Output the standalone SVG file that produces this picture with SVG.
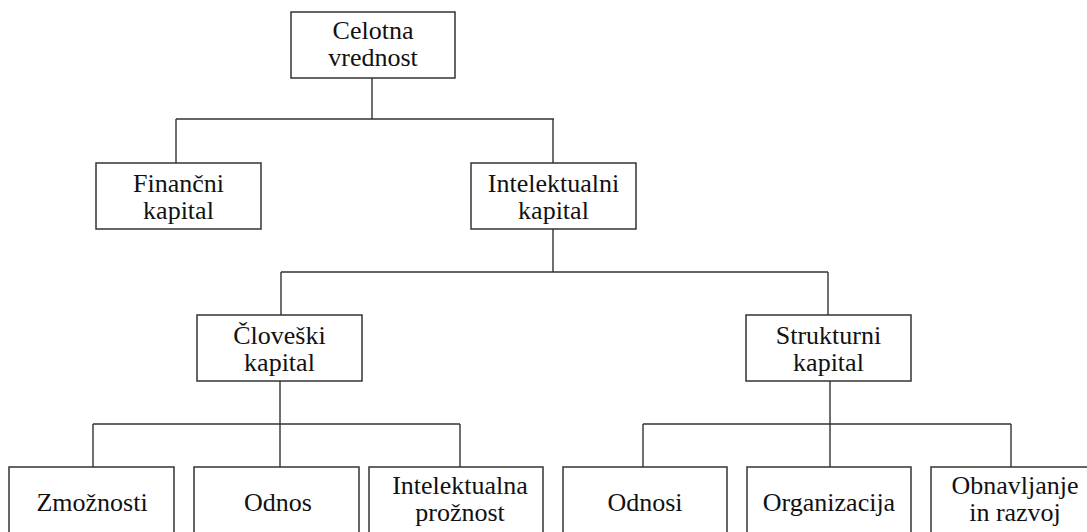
<svg xmlns="http://www.w3.org/2000/svg" width="1087" height="532" viewBox="0 0 1087 532">
<style>
.box{fill:#fff;stroke:#333;stroke-width:1.5}
.ln{fill:none;stroke:#333;stroke-width:1.4}
.t{font-family:'Liberation Serif','Times New Roman',serif;font-size:26px;fill:#111;text-anchor:middle}
</style>
<rect width="1087" height="532" fill="#fff"/>
<g id="connectors">
<path class="ln" d="M372,78V119M176,119H554M176,119V163M553,119V163"/>
<path class="ln" d="M553,229V272M281,272H828M281,272V315M828,272V315"/>
<path class="ln" d="M280,381V424M93,424H460M93,424V467M280,424V467M460,424V467"/>
<path class="ln" d="M830,381V424M643,424H1011M643,424V467M830,424V467M1011,424V467"/>
</g>
<g id="n-celotna"><rect class="box" x="291" y="12" width="164" height="66"/><text class="t" x="373" y="39">Celotna</text><text class="t" x="373" y="66">vrednost</text></g>
<g id="n-financni"><rect class="box" x="96" y="163" width="165" height="66"/><text class="t" x="178.5" y="192">Finančni</text><text class="t" x="178.5" y="219">kapital</text></g>
<g id="n-intelektualni"><rect class="box" x="471" y="163" width="165" height="66"/><text class="t" x="553.5" y="192">Intelektualni</text><text class="t" x="553.5" y="219">kapital</text></g>
<g id="n-cloveski"><rect class="box" x="197" y="315" width="165" height="66"/><text class="t" x="279.5" y="344">Človeški</text><text class="t" x="279.5" y="371">kapital</text></g>
<g id="n-strukturni"><rect class="box" x="746" y="315" width="165" height="66"/><text class="t" x="828.5" y="344">Strukturni</text><text class="t" x="828.5" y="371">kapital</text></g>
<g id="n-zmoznosti"><rect class="box" x="9" y="467" width="165" height="70"/><text class="t" x="92" y="511">Zmožnosti</text></g>
<g id="n-odnos"><rect class="box" x="194" y="467" width="165" height="70"/><text class="t" x="278" y="511">Odnos</text></g>
<g id="n-proznost"><rect class="box" x="369" y="467" width="174" height="70"/><text class="t" x="460" y="494">Intelektualna</text><text class="t" x="460" y="521">prožnost</text></g>
<g id="n-odnosi"><rect class="box" x="563" y="467" width="164" height="70"/><text class="t" x="645" y="511">Odnosi</text></g>
<g id="n-organizacija"><rect class="box" x="747" y="467" width="164" height="70"/><text class="t" x="829" y="511">Organizacija</text></g>
<g id="n-obnavljanje"><rect class="box" x="931" y="467" width="164" height="70"/><text class="t" x="1015" y="494">Obnavljanje</text><text class="t" x="1015" y="521">in razvoj</text></g>
</svg>
